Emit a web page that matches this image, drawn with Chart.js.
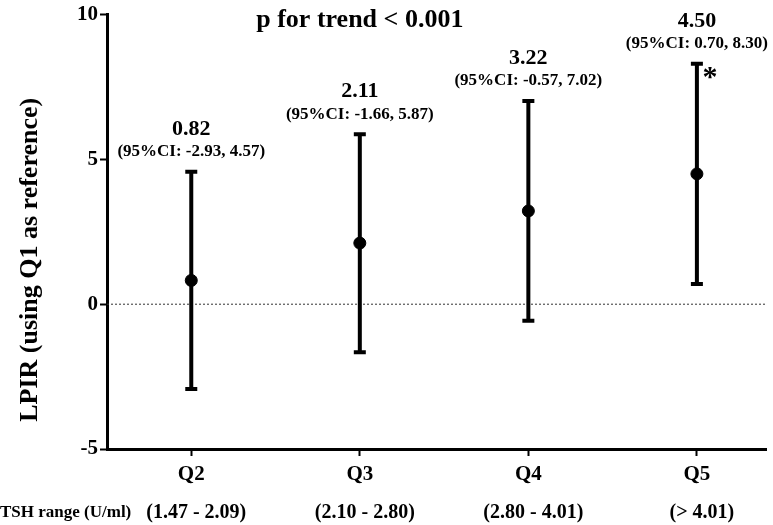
<!DOCTYPE html>
<html>
<head>
<meta charset="utf-8">
<script src="https://cdn.jsdelivr.net/npm/chart.js@4"></script>
<style>
  html, body { margin: 0; padding: 0; background: #fff; }
  #wrap { width: 773px; height: 525px; }
</style>
</head>
<body>
<div id="wrap"><canvas id="chartLpir"></canvas></div>
<script>
// données
const categories = ["Q2", "Q3", "Q4", "Q5"];
const tshRanges = ["(1.47 - 2.09)", "(2.10 - 2.80)", "(2.80 - 4.01)", "(> 4.01)"];
const estimates = [0.82, 2.11, 3.22, 4.50];
const ciLower = [-2.93, -1.66, -0.57, 0.70];
const ciUpper = [4.57, 5.87, 7.02, 8.30];
const significant = [false, false, false, true];
const yTicks = [-5, 0, 5, 10];
const trendText = "p for trend < 0.001";
const tshTitle = "TSH range (U/ml)";
const yTitle = "LPIR (using Q1 as reference)";

const SERIF = "'Liberation Serif', 'Times New Roman', serif";

const errorBars = {
    id: "errorBars",
    beforeDatasetsDraw(chart) {
        const { ctx, scales: { x, y }, chartArea } = chart;
        ctx.save();
        // ligne pointillée à 0
        ctx.strokeStyle = "#333";
        ctx.lineWidth = 1;
        ctx.setLineDash([2, 2]);
        ctx.beginPath();
        ctx.moveTo(chartArea.left, y.getPixelForValue(0));
        ctx.lineTo(chartArea.right, y.getPixelForValue(0));
        ctx.stroke();
        ctx.setLineDash([]);
        // barres d'erreur
        ctx.strokeStyle = "#000";
        ctx.lineWidth = 4;
        estimates.forEach((v, i) => {
            const px = x.getPixelForValue(i + 1);
            const top = y.getPixelForValue(ciUpper[i]);
            const bot = y.getPixelForValue(ciLower[i]);
            ctx.beginPath();
            ctx.moveTo(px, top);
            ctx.lineTo(px, bot);
            ctx.moveTo(px - 6, top);
            ctx.lineTo(px + 6, top);
            ctx.moveTo(px - 6, bot);
            ctx.lineTo(px + 6, bot);
            ctx.stroke();
        });
        ctx.restore();
    },
    afterDraw(chart) {
        const { ctx, scales: { x, y }, chartArea } = chart;
        ctx.save();
        ctx.fillStyle = "#000";
        ctx.textAlign = "center";
        ctx.textBaseline = "middle";
        estimates.forEach((v, i) => {
            const px = x.getPixelForValue(i + 1);
            const top = y.getPixelForValue(ciUpper[i]);
            ctx.font = "bold 22px " + SERIF;
            ctx.fillText(v.toFixed(2), px, top - 43);
            ctx.font = "bold 17px " + SERIF;
            ctx.fillText("(95%CI: " + ciLower[i].toFixed(2) + ", " + ciUpper[i].toFixed(2) + ")", px, top - 20);
            if (significant[i]) {
                ctx.font = "bold 30px " + SERIF;
                ctx.fillText("*", px + 13, top + 14);
            }
        });
        // p for trend
        ctx.font = "bold 26px " + SERIF;
        ctx.fillText(trendText, x.getPixelForValue(2), y.getPixelForValue(9.8));
        // ligne TSH
        ctx.font = "bold 20px " + SERIF;
        const rowY = 513;
        tshRanges.forEach((t, i) => {
            ctx.fillText(t, x.getPixelForValue(i + 1) + 5, rowY);
        });
        ctx.font = "bold 17px " + SERIF;
        ctx.textAlign = "left";
        ctx.fillText(tshTitle, 0, rowY);
        // titre de l'axe y
        ctx.translate(30, (chartArea.top + chartArea.bottom) / 2 + 28);
        ctx.rotate(-Math.PI / 2);
        ctx.textAlign = "center";
        ctx.font = "bold 26px " + SERIF;
        ctx.fillText(yTitle, 0, 0);
        ctx.restore();
    }
};

new Chart(document.getElementById("chartLpir"), {
    type: "scatter",
    data: {
        datasets: [{
            data: estimates.map((v, i) => ({ x: i + 1, y: v })),
            backgroundColor: "#000",
            borderColor: "#000",
            pointRadius: 6,
            pointHoverRadius: 6
        }]
    },
    options: {
        responsive: true,
        maintainAspectRatio: false,
        animation: false,
        layout: { padding: { top: 8, right: 0, bottom: 0, left: 0 } },
        plugins: {
            legend: { display: false },
            tooltip: { enabled: false }
        },
        scales: {
            x: {
                type: "linear",
                min: 0.5,
                max: 4.41,
                afterBuildTicks: (scale) => { scale.ticks = categories.map((c, i) => ({ value: i + 1 })); },
                afterFit: (scale) => { scale.height = 76; },
                ticks: {
                    callback: (value) => categories[value - 1],
                    color: "#000",
                    font: { family: SERIF, size: 21, weight: "bold" },
                    padding: 6,
                    maxRotation: 0
                },
                grid: { display: true, drawOnChartArea: false, drawTicks: true, tickLength: 7, tickWidth: 2, color: "#000" },
                border: { display: true, color: "#000", width: 3 }
            },
            y: {
                min: -5,
                max: 10,
                afterBuildTicks: (scale) => { scale.ticks = yTicks.map(v => ({ value: v })); },
                afterFit: (scale) => { scale.width = 107; },
                ticks: {
                    color: "#000",
                    font: { family: SERIF, size: 21, weight: "bold" },
                    padding: 2
                },
                grid: { display: true, drawOnChartArea: false, drawTicks: true, tickLength: 7, tickWidth: 2, color: "#000" },
                border: { display: true, color: "#000", width: 3 }
            }
        }
    },
    plugins: [errorBars]
});
</script>
</body>
</html>
